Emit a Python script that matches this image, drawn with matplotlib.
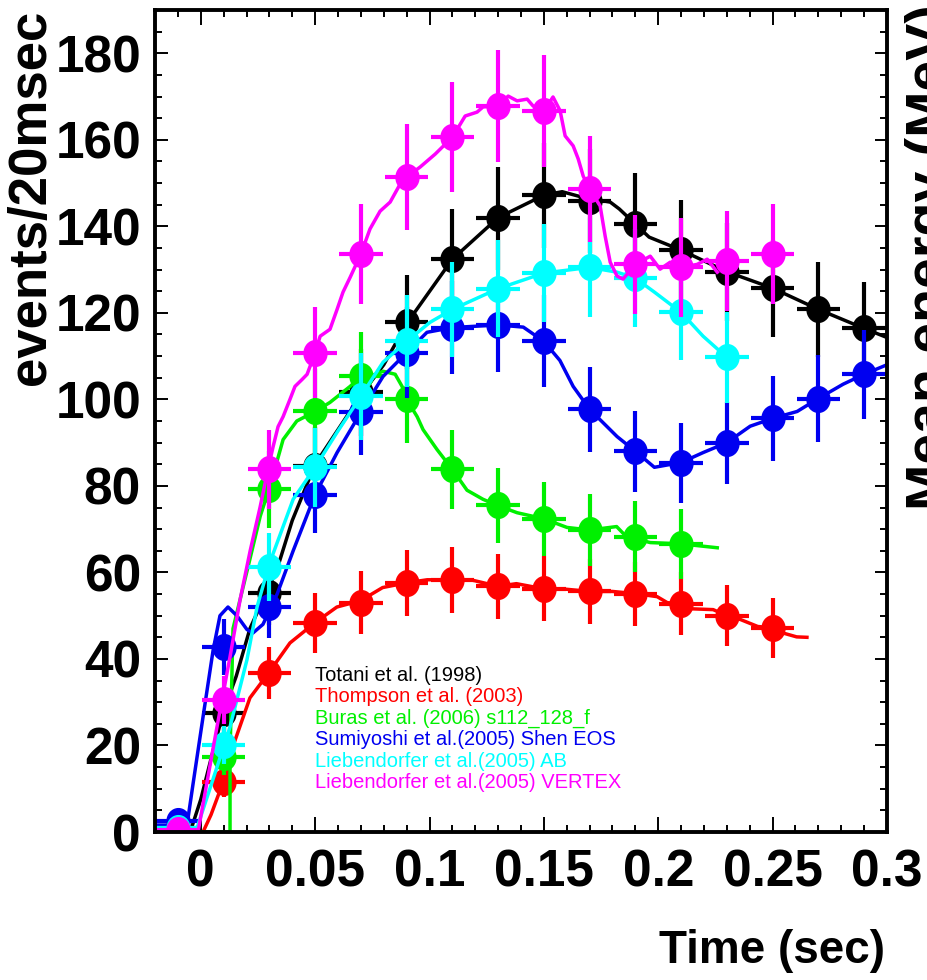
import numpy as np
import matplotlib
matplotlib.use("Agg")
import matplotlib.pyplot as plt
from matplotlib import font_manager
from matplotlib.path import Path
from matplotlib.transforms import Affine2D
from matplotlib.ticker import MultipleLocator

# binned points (20 msec bins)
bins = [-0.01, 0.01, 0.03, 0.05, 0.07, 0.09, 0.11, 0.13, 0.15, 0.17,
        0.19, 0.21, 0.23, 0.25, 0.27, 0.29]

totani_pts = [1, 27.5, 55.3, 84.5, 101.6, 117.8, 132.4, 141.9, 147.2, 145.9,
              140.5, 134.5, 129.5, 125.7, 120.8, 116.4]
thompson_pts = [11.6, 36.8, 48.4, 53.0, 57.6, 58.3, 56.8, 56.2, 55.6, 55.1,
                52.8, 50.0, 47.2]
buras_pts = [17.4, 79.2, 97.2, 105.3, 100.0, 83.8, 75.5, 72.4, 69.8, 68.3, 66.6]
sumiyoshi_pts = [2.5, 42.8, 52.0, 78.0, 97.0, 110.8, 116.6, 117.2, 113.4, 97.7,
                 88.0, 85.4, 90.0, 95.6, 100.2, 105.8]
ab_pts = [1, 20.1, 61.3, 84.3, 100.7, 113.4, 120.8, 125.6, 129.2, 130.5,
          128.0, 120.1, 109.7]
vertex_pts = [0.5, 30.5, 83.8, 110.8, 133.6, 151.4, 160.6, 167.8, 166.7, 148.6,
              131.2, 130.5, 132.0, 133.6]

# model curves
totani_x = [-0.02, -0.004, 0.0, 0.0055, 0.01, 0.0155, 0.0215, 0.0275, 0.0335, 0.04,
            0.05, 0.06, 0.07, 0.08, 0.09, 0.11, 0.13, 0.15, 0.158, 0.167,
            0.179, 0.183, 0.19, 0.196, 0.21, 0.23, 0.25, 0.27, 0.29, 0.30]
totani_y = [1, 1, 7.5, 19, 28, 36, 47, 54, 61, 72,
            85, 93, 101, 108, 117.5, 132.4, 142, 147.2, 148, 146.7,
            145.6, 144, 140.5, 137.5, 134.5, 129.5, 125.7, 120.8, 116.4, 114.3]

thompson_x = [-0.02, 0.001, 0.0045, 0.0085, 0.014, 0.0215, 0.03, 0.039, 0.05, 0.0595,
              0.07, 0.0795, 0.09, 0.099, 0.11, 0.118, 0.13, 0.138, 0.15, 0.158,
              0.17, 0.18, 0.19, 0.1995, 0.204, 0.21, 0.214, 0.224, 0.23, 0.236,
              0.2435, 0.25, 0.2545, 0.2605, 0.265]
thompson_y = [0, 0, 4, 9.7, 19.7, 31, 37, 43.7, 48.4, 52,
              53.5, 56.5, 57.6, 58.3, 58.3, 58.3, 56.8, 57.4, 56.2, 56.2,
              55.6, 55.6, 55.1, 54.4, 53, 52.8, 51.6, 51.4, 50, 49.1,
              47.5, 47.2, 46, 45.1, 45]

buras_x = [-0.02, 0.0128, 0.0128, 0.0141, 0.021, 0.026, 0.0303, 0.036, 0.042, 0.05,
           0.0565, 0.0653, 0.07, 0.074, 0.0797, 0.085, 0.088, 0.09, 0.0946, 0.0972,
           0.1033, 0.11, 0.1164, 0.1234, 0.1296, 0.1383, 0.15, 0.1601, 0.17, 0.1818,
           0.186, 0.1965, 0.21, 0.2258]
buras_y = [0, 0, 18, 47, 62, 73, 80, 90.7, 95, 97.2,
           99.3, 103, 105.3, 105.3, 106.5, 105.8, 103, 100, 96, 93,
           88.4, 83.8, 79, 76.9, 75.5, 73.8, 72.4, 70.4, 69.8, 70.6,
           68.3, 66.9, 66.6, 65.7]

sumiyoshi_x = [-0.02, -0.006, -0.0034, 0.001, 0.0054, 0.0084, 0.0119, 0.0158, 0.0202, 0.0228,
               0.0272, 0.0334, 0.0404, 0.05, 0.0596, 0.07, 0.0797, 0.09, 0.0989, 0.11,
               0.13, 0.141, 0.15, 0.157, 0.1628, 0.17, 0.182, 0.19, 0.1983, 0.21,
               0.2196, 0.23, 0.2402, 0.25, 0.2607, 0.27, 0.2808, 0.29, 0.30]
sumiyoshi_y = [1.6, 1.6, 11, 26.6, 42, 50, 52, 50, 46.8, 46,
               48, 55, 65, 78, 87.7, 97, 105.3, 110.8, 115.5, 116.6,
               117.2, 116.7, 113.4, 109, 103, 97.7, 91.4, 88, 84.3, 85.4,
               87.7, 90, 93.8, 95.6, 97.2, 100.2, 103.5, 105.8, 108]

ab_x = [-0.02, -0.0016, 0.0071, 0.0128, 0.0202, 0.0246, 0.03, 0.0404, 0.05, 0.0596,
        0.07, 0.0797, 0.09, 0.1002, 0.11, 0.13, 0.15, 0.17, 0.182, 0.19,
        0.1983, 0.21, 0.2196, 0.23]
ab_y = [1, 1, 15, 24.3, 39.8, 52, 62, 76.9, 84.3, 92.4,
        100.7, 108.6, 113.4, 117.8, 120.8, 125.6, 129.2, 130.5, 129.4, 128,
        124.8, 120.1, 114.6, 109.7]

vertex_x = [-0.02, -0.0012, 0.0071, 0.0128, 0.0172, 0.0216, 0.0259, 0.0294, 0.0316, 0.0338,
            0.036, 0.039, 0.0412, 0.0443, 0.0465, 0.05, 0.0522, 0.0565, 0.0596, 0.0622,
            0.0653, 0.07, 0.074, 0.0784, 0.0828, 0.0872, 0.09, 0.0959, 0.1025, 0.11,
            0.1156, 0.1208, 0.1234, 0.13, 0.1344, 0.1383, 0.1427, 0.1453, 0.15, 0.154,
            0.1571, 0.1593, 0.1628, 0.165, 0.1672, 0.17, 0.1746, 0.1768, 0.179, 0.182,
            0.1846, 0.19, 0.1965, 0.2008, 0.2052, 0.21, 0.217, 0.2214, 0.2258]
vertex_y = [0, 0, 24.3, 40.5, 53.7, 65, 75, 83.8, 89, 93.7,
            96, 100, 103, 104.6, 105.8, 110.8, 114.6, 116.2, 120.8, 124.8,
            128.2, 133.6, 139.4, 143.5, 145.6, 149.8, 151.4, 153.7, 156.7, 160.6,
            165.5, 166.4, 167.6, 167.8, 170.1, 169, 169.4, 167.8, 166.7, 169.9,
            166.7, 160.9, 158.6, 155.6, 151.6, 148.6, 144.7, 137.7, 131.7, 128.5,
            127.8, 131.2, 133.1, 130.1, 131.7, 130.5, 131.2, 132.4, 129.4]

labels = ["Totani et al. (1998)", "Thompson et al. (2003)",
          "Buras et al. (2006) s112_128_f", "Sumiyoshi et al.(2005) Shen EOS",
          "Liebendorfer et al.(2005) AB", "Liebendorfer et al.(2005) VERTEX"]
colors = ["black", "#ff0000", "#00f000", "#0000f0", "#00ffff", "#ff00ff"]

xticks = [0, 0.05, 0.1, 0.15, 0.2, 0.25, 0.3]
xtick_labels = ["0", "0.05", "0.1", "0.15", "0.2", "0.25", "0.3"]

names = {f.name for f in font_manager.fontManager.ttflist}
if "Liberation Sans Narrow" in names:
    tick_font, tick_size = "Liberation Sans Narrow", 43
else:
    tick_font, tick_size = "Liberation Sans", 37

plt.rcParams["font.family"] = ["Liberation Sans", "DejaVu Sans"]

fig = plt.figure(figsize=(9.27, 9.8), dpi=100)
ax = fig.add_axes([155 / 927, 148 / 980, 732 / 927, 822 / 980])

# slightly tall circle like the original
dot = Affine2D().scale(1, 1.12).transform_path(Path.unit_circle())

series = [
    (totani_x, totani_y, totani_pts),
    (thompson_x, thompson_y, thompson_pts),
    (buras_x, buras_y, buras_pts),
    (sumiyoshi_x, sumiyoshi_y, sumiyoshi_pts),
    (ab_x, ab_y, ab_pts),
    (vertex_x, vertex_y, vertex_pts),
]
starts = [-0.01, 0.01, 0.01, -0.01, -0.01, -0.01]

for (cx, cy, pts), c, s in zip(series, colors, starts):
    i0 = bins.index(s)
    bx = bins[i0:i0 + len(pts)]
    ax.plot(cx, cy, color=c, lw=2.5)
    ax.errorbar(bx, pts, yerr=np.sqrt(pts), xerr=0.0095, fmt="none",
                ecolor=c, elinewidth=3, capsize=0)
    ax.plot(bx, pts, ls="none", marker=dot, ms=18.5, color=c, mec=c)

ax.set_xlim(-0.02, 0.3)
ax.set_ylim(0, 190)
ax.set_xticks(xticks, labels=xtick_labels)
ax.xaxis.set_minor_locator(MultipleLocator(0.01))
ax.yaxis.set_major_locator(MultipleLocator(20))
ax.yaxis.set_minor_locator(MultipleLocator(5))

for sp in ax.spines.values():
    sp.set_linewidth(2.8)

ax.tick_params(which="both", direction="in", top=True, right=True, width=1.4)
ax.tick_params(axis="x", which="major", length=11, pad=12)
ax.tick_params(axis="x", which="minor", length=5)
ax.tick_params(axis="y", which="major", length=9, pad=10)
ax.tick_params(axis="y", which="minor", length=5)
for lab in ax.get_xticklabels() + ax.get_yticklabels():
    lab.set_fontfamily(tick_font)
    lab.set_fontweight("bold")
    lab.set_fontsize(tick_size)

fig.text(885 / 927, 1 - 963 / 980, "Time (sec)", ha="right", va="baseline",
         fontsize=33, fontweight="bold")
fig.text(45 / 927, 1 - 10 / 980, "events/20msec", rotation=90,
         rotation_mode="anchor", ha="right", va="baseline",
         fontsize=38, fontweight="bold")
# right-hand axis title, cut by the figure edge as in the original
fig.text(945 / 927, 1 - 510 / 980, "Mean energy (MeV)", rotation=90,
         rotation_mode="anchor", ha="left", va="baseline",
         fontsize=40, fontweight="bold")

# legend as coloured text lines
for k, (lab, c) in enumerate(zip(labels, colors)):
    fig.text(315 / 927, 1 - (681 + 21.4 * k) / 980, lab, color=c,
             fontsize=14.5, ha="left", va="baseline")

fig.savefig("out.png", dpi=100, facecolor="white")
